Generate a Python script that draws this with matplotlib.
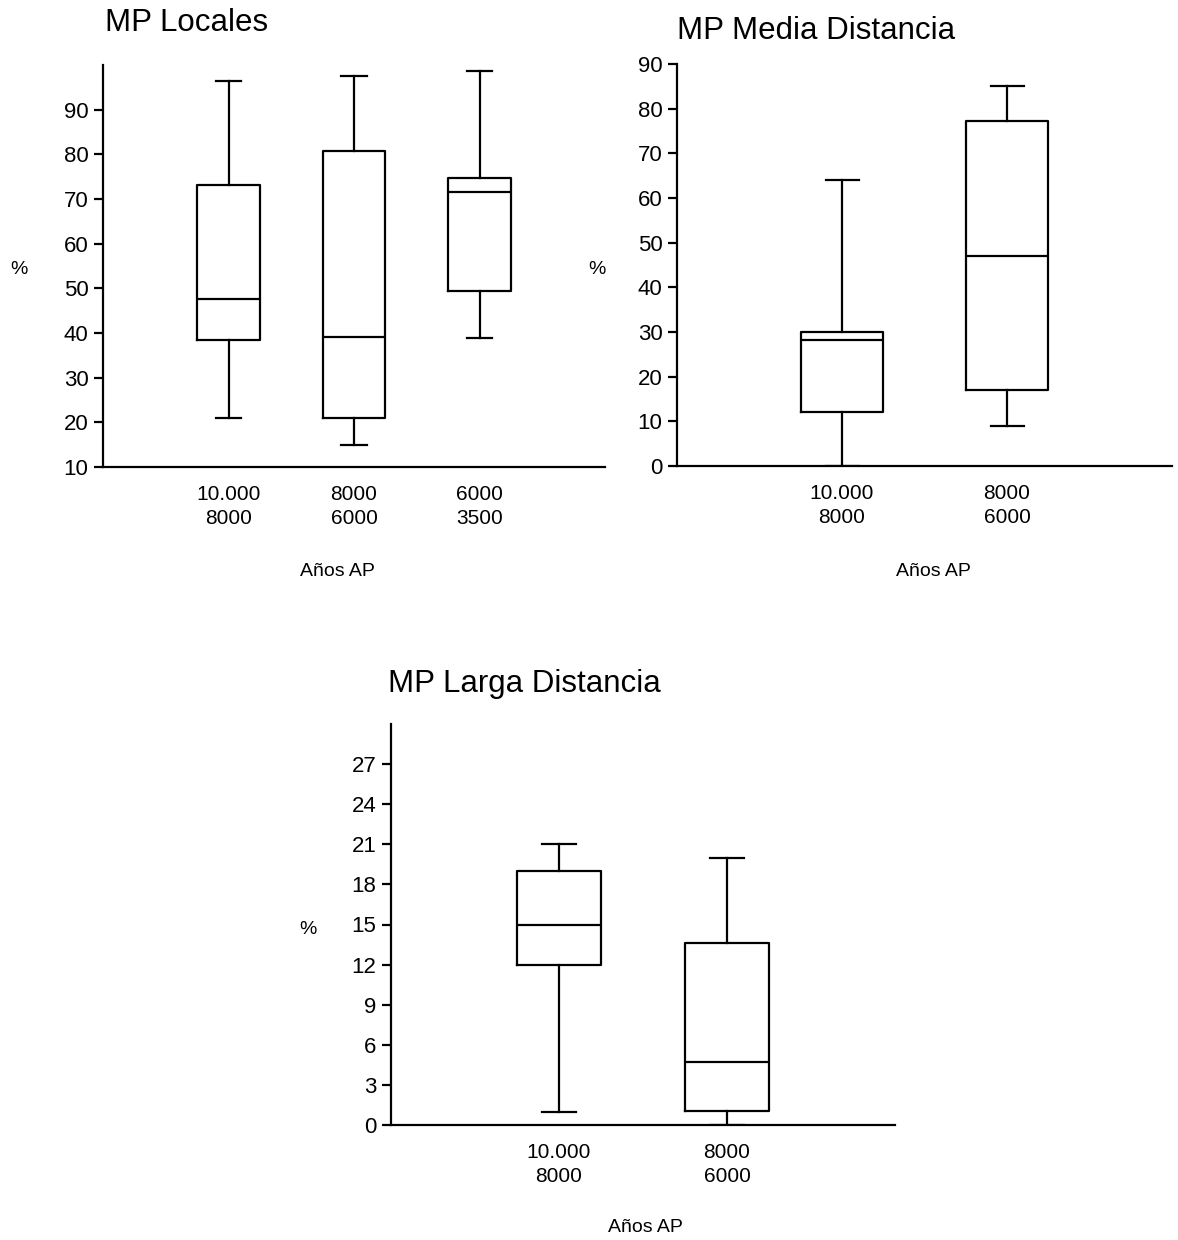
import matplotlib
matplotlib.use("Agg")
from matplotlib import pyplot as plt

# data (box plots: whisker low, q1, median, q3, whisker high)
loc_labels = ["10.000\n8000", "8000\n6000", "6000\n3500"]
loc_low = [21.0, 15.0, 38.8]
loc_q1 = [38.4, 21.0, 49.3]
loc_med = [47.5, 39.0, 71.5]
loc_q3 = [73.2, 80.7, 74.6]
loc_high = [96.5, 97.6, 98.7]

med_labels = ["10.000\n8000", "8000\n6000"]
med_low = [0.0, 9.0]
med_q1 = [12.1, 17.1]
med_med = [28.1, 47.1]
med_q3 = [30.0, 77.2]
med_high = [64.1, 85.1]

lar_labels = ["10.000\n8000", "8000\n6000"]
lar_low = [1.0, 0.0]
lar_q1 = [12.0, 1.05]
lar_med = [15.0, 4.7]
lar_q3 = [19.0, 13.6]
lar_high = [21.0, 20.0]

W, H = 1178, 1240
plt.rcParams["font.family"] = ["Liberation Sans", "DejaVu Sans"]
fig = plt.figure(figsize=(W / 100, H / 100), dpi=100)


def px_axes(left, top, right, bottom):
    # axes box from pixel coords of the reference
    return fig.add_axes([left / W, 1 - bottom / H, (right - left) / W, (bottom - top) / H])


def draw_box(ax, labels, low, q1, med, q3, high, ylim, yticks, xmax):
    stats = []
    for i in range(len(labels)):
        stats.append({"whislo": low[i], "q1": q1[i], "med": med[i],
                      "q3": q3[i], "whishi": high[i], "fliers": []})
    lw = 1.6
    ax.bxp(stats, positions=list(range(1, len(labels) + 1)), widths=0.5,
           showfliers=False, capwidths=0.2,
           boxprops=dict(color="black", linewidth=lw),
           whiskerprops=dict(color="black", linewidth=lw),
           capprops=dict(color="black", linewidth=lw),
           medianprops=dict(color="black", linewidth=lw))
    ax.set_xlim(0, xmax)
    ax.set_ylim(*ylim)
    ax.set_yticks(yticks)
    ax.set_xticks(list(range(1, len(labels) + 1)))
    ax.set_xticklabels(labels, fontsize=15, linespacing=1.3)
    ax.tick_params(axis="x", length=0, pad=13)
    ax.tick_params(axis="y", length=6.5, width=lw, pad=4, labelsize=16)
    for s in ["top", "right"]:
        ax.spines[s].set_visible(False)
    for s in ["left", "bottom"]:
        ax.spines[s].set_linewidth(lw)


ax1 = px_axes(103, 65, 605, 467)
draw_box(ax1, loc_labels, loc_low, loc_q1, loc_med, loc_q3, loc_high,
         (10, 100), list(range(10, 91, 10)), 4)

ax2 = px_axes(677, 64, 1172, 466)
draw_box(ax2, med_labels, med_low, med_q1, med_med, med_q3, med_high,
         (0, 90), list(range(0, 91, 10)), 3)

ax3 = px_axes(391, 724, 895, 1125)
draw_box(ax3, lar_labels, lar_low, lar_q1, lar_med, lar_q3, lar_high,
         (0, 30), list(range(0, 28, 3)), 3)


def ptext(x, y, s, **kw):
    fig.text(x / W, 1 - y / H, s, **kw)


# titles
ptext(105, 23, "MP Locales", fontsize=22.5, va="center", ha="left")
ptext(677, 31, "MP Media Distancia", fontsize=22.5, va="center", ha="left")
ptext(388, 684, "MP Larga Distancia", fontsize=22.5, va="center", ha="left")

# axis labels
ptext(19, 270, "%", fontsize=14, ha="center", va="center")
ptext(597, 270, "%", fontsize=14, ha="center", va="center")
ptext(308, 930, "%", fontsize=14, ha="center", va="center")
ptext(337, 571, "Años AP", fontsize=14, ha="center", va="center")
ptext(933, 571, "Años AP", fontsize=14, ha="center", va="center")
ptext(645, 1228, "Años AP", fontsize=14, ha="center", va="center")

plt.savefig("out.png", dpi=100)
